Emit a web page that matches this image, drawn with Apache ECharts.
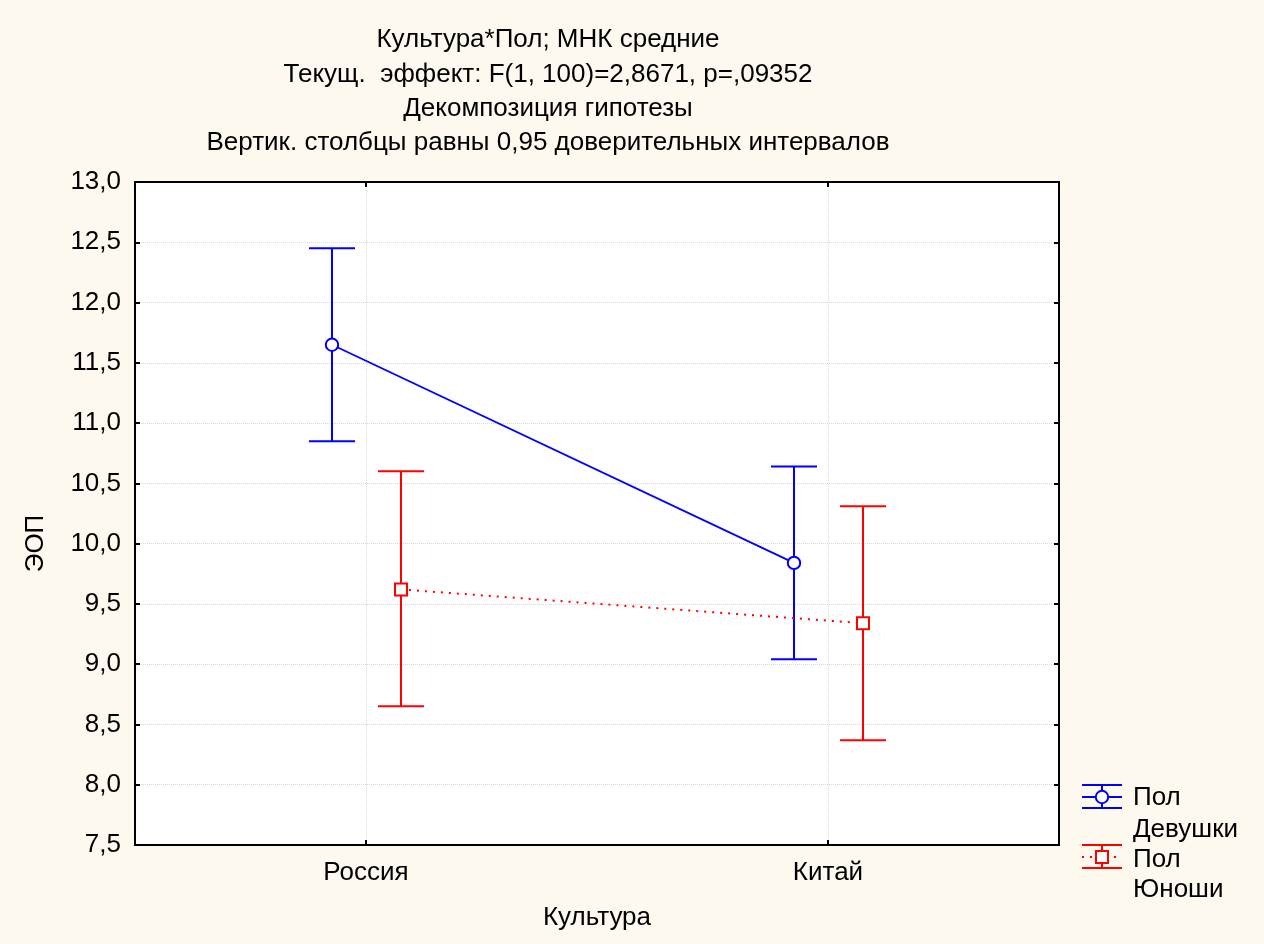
<!DOCTYPE html>
<html>
<head>
<meta charset="utf-8">
<script src="https://cdn.jsdelivr.net/npm/echarts@6/dist/echarts.min.js"></script>
<style>
html,body{margin:0;padding:0;background:#fdf9ee;}
#chart{width:1264px;height:944px;}
</style>
</head>
<body>
<div id="chart"></div>
<script>
const categories = ['Россия', 'Китай'];
const girlsMean = [11.65, 9.84];
const girlsLow = [10.85, 9.04];
const girlsHigh = [12.45, 10.64];
const boysMean = [9.62, 9.34];
const boysLow = [8.65, 8.37];
const boysHigh = [10.60, 10.31];
const yTicksMin = 7.5, yTicksMax = 13.0, yTickStep = 0.5;
const titleLines = [
  'Культура*Пол; МНК средние',
  'Текущ.  эффект: F(1, 100)=2,8671, p=,09352',
  'Декомпозиция гипотезы',
  'Вертик. столбцы равны 0,95 доверительных интервалов'
];
const legendGroup = 'Пол';
const seriesNames = ['Девушки', 'Юноши'];

const FONT = '"Liberation Sans", Arial, sans-serif';
const FS = 26;

function makeRender(means, lows, highs, color, offset, marker, dashed) {
  return function (params, api) {
    const i = params.dataIndex;
    const c = api.coord([i, means[i]]);
    const lo = api.coord([i, lows[i]]);
    const hi = api.coord([i, highs[i]]);
    const x = c[0] + offset;
    const children = [];
    if (i < means.length - 1) {
      const n = api.coord([i + 1, means[i + 1]]);
      children.push({
        type: 'line',
        shape: {x1: x, y1: c[1], x2: n[0] + offset, y2: n[1]},
        style: {stroke: color, lineWidth: dashed ? 2 : 1.8, lineDash: dashed ? [2, 6] : null}
      });
    }
    children.push({type: 'line', shape: {x1: x, y1: hi[1], x2: x, y2: lo[1]}, style: {stroke: color, lineWidth: 2}});
    children.push({type: 'line', shape: {x1: x - 23, y1: hi[1], x2: x + 23, y2: hi[1]}, style: {stroke: color, lineWidth: 2}});
    children.push({type: 'line', shape: {x1: x - 23, y1: lo[1], x2: x + 23, y2: lo[1]}, style: {stroke: color, lineWidth: 2}});
    if (marker === 'circle') {
      children.push({type: 'circle', shape: {cx: x, cy: c[1], r: 6.2}, style: {fill: '#fff', stroke: color, lineWidth: 2}});
    } else {
      children.push({type: 'rect', shape: {x: x - 6, y: c[1] - 6, width: 12, height: 12}, style: {fill: '#fff', stroke: color, lineWidth: 2}});
    }
    return {type: 'group', children: children};
  };
}

function legendIcon(y, color, marker, dashed) {
  const cx = 1102;
  const els = [
    {type: 'line', shape: {x1: 1082, y1: y - 12, x2: 1122, y2: y - 12}, style: {stroke: color, lineWidth: 2}},
    {type: 'line', shape: {x1: 1082, y1: y + 11, x2: 1122, y2: y + 11}, style: {stroke: color, lineWidth: 2}},
    {type: 'line', shape: {x1: cx, y1: y - 12, x2: cx, y2: y + 11}, style: {stroke: color, lineWidth: 2}},
    {type: 'line', shape: {x1: 1082, y1: y, x2: 1122, y2: y}, style: {stroke: color, lineWidth: dashed ? 2 : 1.8, lineDash: dashed ? [2, 6] : null}}
  ];
  if (marker === 'circle') {
    els.push({type: 'circle', shape: {cx: cx, cy: y, r: 6.2}, style: {fill: '#fff', stroke: color, lineWidth: 2}});
  } else {
    els.push({type: 'rect', shape: {x: cx - 6, y: y - 6, width: 12, height: 12}, style: {fill: '#fff', stroke: color, lineWidth: 2}});
  }
  return els;
}

function legendText(y, txt) {
  return {type: 'text', left: 1133, top: y - 12, style: {text: txt, font: FS + 'px ' + FONT, fill: '#000'}};
}

const chart = echarts.init(document.getElementById('chart'), null, {renderer: 'canvas'});
const fmt = v => v.toFixed(1).replace('.', ',');
const axisLineStyle = {color: '#000', width: 2};

chart.setOption({
  backgroundColor: '#fdf9ee',
  animation: false,
  title: {
    text: titleLines.join('\n'),
    left: 543,
    top: 18,
    textAlign: 'center',
    textStyle: {fontFamily: FONT, fontSize: FS, fontWeight: 'normal', color: '#000', lineHeight: 34.3}
  },
  grid: {left: 135, top: 182, width: 924, height: 663, show: true, backgroundColor: '#fff', borderColor: '#000', borderWidth: 2},
  xAxis: [{
    type: 'category',
    data: categories,
    boundaryGap: true,
    name: 'Культура',
    nameLocation: 'middle',
    nameGap: 60,
    nameTextStyle: {fontFamily: FONT, fontSize: FS, color: '#000'},
    axisLine: {lineStyle: axisLineStyle},
    axisTick: {show: true, inside: true, length: 5, alignWithLabel: true, lineStyle: {color: '#000', width: 2}},
    axisLabel: {fontFamily: FONT, fontSize: FS, color: '#000', margin: 15},
    splitLine: {show: true, alignWithLabel: true, lineStyle: {color: '#d9d9d9', type: 'dotted', width: 1}}
  }, {
    type: 'category',
    position: 'top',
    data: categories,
    boundaryGap: true,
    axisLine: {lineStyle: axisLineStyle},
    axisTick: {show: true, inside: true, length: 5, alignWithLabel: true, lineStyle: {color: '#000', width: 2}},
    axisLabel: {show: false},
    splitLine: {show: false}
  }],
  yAxis: [{
    type: 'value',
    min: yTicksMin, max: yTicksMax, interval: yTickStep,
    name: 'ЭОП',
    nameLocation: 'middle',
    nameGap: 86,
    nameTextStyle: {fontFamily: FONT, fontSize: FS, color: '#000', padding: [0, 60, 0, 0]},
    axisLine: {show: true, lineStyle: axisLineStyle},
    axisTick: {show: true, inside: true, length: 5, lineStyle: {color: '#000', width: 2}},
    axisLabel: {fontFamily: FONT, fontSize: FS, color: '#000', margin: 14, formatter: fmt},
    splitLine: {show: true, lineStyle: {color: '#d9d9d9', type: 'dotted', width: 1}}
  }, {
    type: 'value',
    position: 'right',
    min: yTicksMin, max: yTicksMax, interval: yTickStep,
    axisLine: {show: true, lineStyle: axisLineStyle},
    axisTick: {show: true, inside: true, length: 5, lineStyle: {color: '#000', width: 2}},
    axisLabel: {show: false},
    splitLine: {show: false}
  }],
  series: [{
    name: seriesNames[0],
    type: 'custom',
    xAxisIndex: 0, yAxisIndex: 0,
    renderItem: makeRender(girlsMean, girlsLow, girlsHigh, '#0000ff', -34, 'circle', false),
    data: girlsMean.map((v, i) => [i, v, girlsLow[i], girlsHigh[i]]),
    encode: {x: 0, y: [1, 2, 3]},
    z: 3
  }, {
    name: seriesNames[1],
    type: 'custom',
    xAxisIndex: 0, yAxisIndex: 0,
    renderItem: makeRender(boysMean, boysLow, boysHigh, '#ff0000', 35, 'rect', true),
    data: boysMean.map((v, i) => [i, v, boysLow[i], boysHigh[i]]),
    encode: {x: 0, y: [1, 2, 3]},
    z: 3
  }],
  graphic: [].concat(
    legendIcon(797, '#0000ff', 'circle', false),
    legendIcon(857, '#ff0000', 'rect', true),
    [legendText(797, legendGroup), legendText(829, seriesNames[0]), legendText(859, legendGroup), legendText(889, seriesNames[1])]
  )
});
</script>
</body>
</html>
